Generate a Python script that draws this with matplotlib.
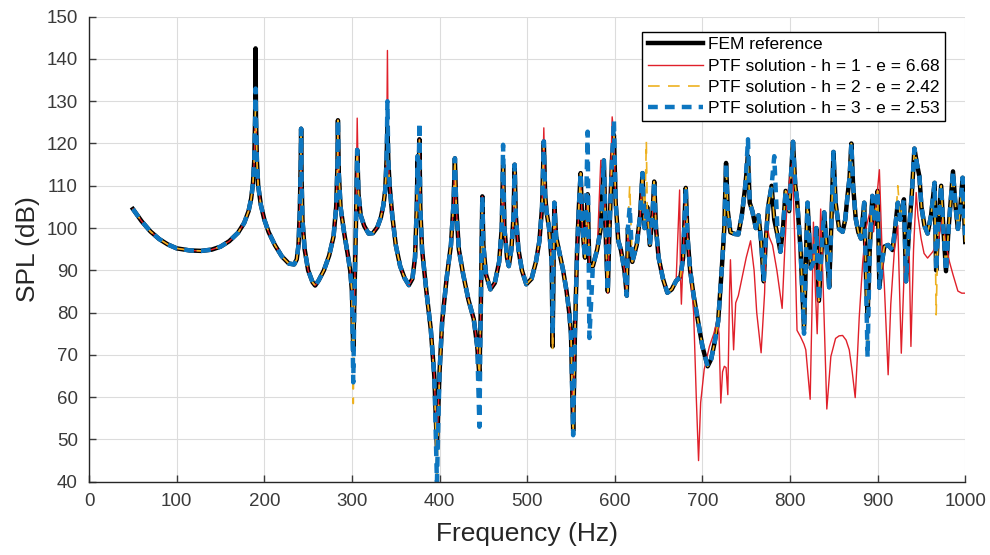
"""
SPL frequency response: FEM reference vs PTF solutions of orders h = 1, 2, 3.
Curves are read off the published figure, peak by peak.
"""

import numpy as np
import matplotlib
matplotlib.use("Agg")
import matplotlib.pyplot as plt

plt.rcParams['font.family'] = ['Liberation Sans', 'DejaVu Sans']

# FEM reference (frequency in Hz, SPL in dB)
fem_freq = [50, 60, 70, 80, 90, 100, 115, 128, 140, 150, 160, 170, 177, 182, 185, 187, 188.5, 189.5, 190, 190.5,
            191.5, 193, 196, 200, 205, 212, 220, 228, 234, 237, 239, 240.5, 241.5, 242, 242.5, 243.5, 246, 250, 255,
            258, 262, 268, 274, 279, 282, 283.5, 284, 285, 287, 291, 295, 298, 300, 301.5, 303, 304.5, 306, 307.5,
            310, 314, 319, 324, 329, 333, 336, 338, 339.5, 340.5, 341.5, 343, 346, 350, 355, 360, 365, 369, 372,
            374, 375, 376, 377, 378, 380, 385, 390, 394, 397, 400, 403, 408, 413, 416, 417.5, 419, 422, 427, 433,
            439, 443, 445.5, 447, 448.8, 450, 453, 458, 463, 468, 471, 472.5, 474, 477, 479, 482, 484.5, 485.7, 487,
            490, 494, 499, 505, 510, 514, 517, 519, 520.5, 522, 525, 528, 529, 530, 531, 533, 537, 541, 545, 548,
            550, 552.5, 554.5, 557, 559, 561, 563, 566, 569, 571, 575, 580, 584, 587.5, 590, 592, 594, 597, 599,
            601, 604, 607, 611, 613.7, 615, 617, 620, 625, 629, 631.6, 634, 637, 640, 643, 645, 647, 650, 655, 660,
            665, 670, 675, 678, 681, 683, 686, 690, 695, 700, 706, 710, 714, 718, 722, 725, 727, 729, 732, 737, 741,
            745, 749, 752, 754, 757, 761, 764, 767, 770, 772, 775, 779, 782, 786, 789, 792, 795, 799, 801, 803.4,
            806, 808, 812, 816, 818, 820, 823.7, 827, 830, 833, 836, 839, 842, 844.7, 847, 849.6, 852, 856, 860,
            863, 865.6, 868, 870, 872, 875, 878, 881, 884.7, 886.5, 888.5, 891, 894, 897, 900, 902, 905, 907.6, 912,
            917, 920, 923, 926, 930, 932.4, 936, 939, 942, 945, 947.7, 950, 953.4, 957, 961, 965, 966.8, 969, 972.5,
            975, 978, 981, 984, 986, 989, 991.6, 994, 997, 1000]
fem_spl = [104.5, 101.6, 99.2, 97.4, 96.1, 95.2, 94.7, 94.6, 94.9, 95.6, 96.9, 98.9, 101.2, 104, 107, 110.5, 116, 126,
           142.5, 126, 116, 110, 105.5, 102, 99, 96, 93.3, 91.6, 91.4, 92.6, 96, 104, 115, 123.5, 112, 102, 95, 90,
           87.2, 86.4, 87.6, 90, 93.5, 98, 105, 115, 125.5, 113, 105, 99, 94, 90, 85, 71, 85, 100, 118.5, 108, 103,
           100.5, 98.7, 98.8, 100.2, 102.5, 105.5, 109, 116, 124, 116, 110, 103, 96, 91, 88.2, 86.5, 88, 93, 105,
           117, 110, 121, 105, 95, 85, 76, 65, 48, 66, 78, 88, 96, 106, 116.5, 105, 95, 89, 83, 78.5, 72, 65, 80,
           107.5, 96, 89, 85.5, 87, 92, 100, 115, 100, 93, 91, 95, 103, 115, 103, 95, 90, 86.7, 88, 92, 97, 105,
           120.5, 108, 104, 100, 92, 72, 90, 106, 98, 94, 90, 85, 80, 75, 52, 75, 95, 105, 113, 100, 93, 108, 91,
           91, 95, 100, 116, 96, 85, 100, 117, 122, 106, 97, 94.8, 90, 84, 100, 95, 92, 96, 103, 113, 100, 105, 96,
           103, 111, 100, 93, 88, 84.7, 85.5, 87.5, 88.5, 93, 109.5, 98, 90, 84, 78, 72, 67.3, 69, 73, 78, 90, 100,
           115.4, 104, 99, 98.6, 98.5, 103, 110, 117, 106, 104, 100, 103, 97, 87.4, 96, 105, 110, 102, 98, 94.4, 100,
           108.8, 104, 112, 120.4, 110, 106.8, 95, 76, 92, 106, 90.5, 92, 100, 82.8, 95, 103.7, 95, 86, 100, 118,
           106, 99.8, 99.1, 102, 107.6, 112, 120, 110, 102.2, 99, 97.5, 106, 90, 79, 95, 107.6, 101, 108.8, 85.9,
           92, 95.6, 96, 94.8, 100, 106, 102, 106.8, 87.4, 100, 108, 118.8, 115, 112.2, 105, 100.6, 98.7, 103,
           110.7, 90, 100, 110, 100, 89.8, 100, 108, 113.4, 105, 99.8, 104, 111.9, 96.7]

# PTF h = 3: points where it leaves the FEM curve
h3_freq = [190, 301.5, 340.5, 377, 397, 445.5, 472.5, 529, 552.5, 569, 571, 599, 617, 752, 782, 816, 888.5]
h3_spl = [133, 63.5, 130, 125, 40, 53, 119.7, 75, 51, 122.8, 74, 125.5, 105, 121, 117, 75, 69.5]

# PTF h = 2: points where it leaves the FEM curve
h2_freq = [190, 301.5, 340.5, 397, 529, 552.5, 617, 636, 888.5, 923, 966.8]
h2_spl = [130, 58.5, 128, 41, 71, 51, 110, 120.5, 72, 110, 79.5]

# PTF h = 1: deviations below 681 Hz, own path above
h1_freq = [190, 306, 340.5, 519, 584, 592, 597, 674, 676]
h1_spl = [124, 126, 142, 123.7, 116, 84.6, 126.3, 109, 82]
h1_tail_freq = [683, 686, 690, 693, 695.6, 698, 702, 708, 713, 717, 719, 721, 723, 725, 727, 729, 731, 732, 734,
                735.6, 738, 741, 745, 750, 755, 759, 762, 767, 771, 773, 776, 780, 785, 789, 791, 794, 797, 800,
                802.7, 805, 808, 812, 816, 818, 823, 825, 826.7, 829, 831, 833, 835, 838, 842, 846.6, 852, 856, 860,
                864, 867.6, 871, 874.4, 877, 879, 883, 886.6, 889, 891.6, 895.4, 898, 902, 905, 907.6, 912, 915, 919,
                923, 927, 930, 932.4, 936, 938, 941, 944, 946, 949.6, 953, 957, 963, 968.7, 971, 974, 978, 982, 986,
                991.6, 996, 1000]
h1_tail_spl = [98, 90, 80, 60, 45, 58.7, 66.5, 72, 75, 78.3, 75, 58.6, 66, 67.3, 67, 60.6, 85, 92.5, 80, 71.2, 82.3,
               84, 88, 93, 97, 90, 80, 70.5, 84.7, 102, 98, 96, 90, 84, 81, 95, 107.6, 112, 115.3, 100, 75.8, 74.3,
               72.5, 71.2, 59.5, 80, 101.4, 85, 75, 90, 104.5, 85, 57.2, 69.6, 73.9, 74.5, 74.6, 73.5, 71.2, 66,
               59.9, 70, 78.9, 92, 99.8, 102, 104.1, 99.1, 105, 113.8, 95, 86.7, 65.3, 82, 94.4, 100.6, 70.4, 88,
               95.2, 94.4, 72, 95, 108.4, 103, 97.5, 94, 92.9, 94.4, 96.7, 99, 102.2, 96, 92, 89, 85.1, 84.6, 84.6]


def merge_points(base_f, base_v, new_f, new_v):
    """Replace/insert the given points into a base curve."""
    pts = dict(zip(base_f, base_v))
    pts.update(zip(new_f, new_v))
    f = sorted(pts)
    return np.array(f), np.array([pts[k] for k in f])


h3_f, h3_v = merge_points(fem_freq, fem_spl, h3_freq, h3_spl)
h2_f, h2_v = merge_points(fem_freq, fem_spl, h2_freq, h2_spl)
low_f = [f for f in fem_freq if f <= 681]
h1_f, h1_v = merge_points(low_f, fem_spl[:len(low_f)], h1_freq + h1_tail_freq, h1_spl + h1_tail_spl)

fig = plt.figure(figsize=(9.9, 5.55), dpi=100)
ax = fig.add_axes([0.09, 0.132, 0.885, 0.838])

ax.plot(fem_freq, fem_spl, color='black', linewidth=3.2, label='FEM reference')
ax.plot(h1_f, h1_v, color='#e0202a', linewidth=1.0, label='PTF solution - h = 1 - e = 6.68')
ax.plot(h2_f, h2_v, color='#EDB120', linewidth=1.2, linestyle=(0, (7, 5)),
        label='PTF solution - h = 2 - e = 2.42')
ax.plot(h3_f, h3_v, color='#0d76c0', linewidth=3.2, linestyle=(0, (2.2, 1.6)),
        label='PTF solution - h = 3 - e = 2.53')

ax.set_xlim(0, 1000)
ax.set_ylim(40, 150)
ax.set_xticks(np.arange(0, 1001, 100))
ax.set_yticks(np.arange(40, 151, 10))
ax.grid(True, color='#dcdcdc', linewidth=0.8)
ax.set_axisbelow(True)
for side in ['top', 'right']:
    ax.spines[side].set_visible(False)
for side in ['left', 'bottom']:
    ax.spines[side].set_color('#262626')
    ax.spines[side].set_linewidth(1.0)
ax.tick_params(direction='in', length=5, width=1, colors='#3a3a3a', labelsize=13.5, pad=8)
ax.set_xlabel('Frequency (Hz)', fontsize=19, color='#262626', labelpad=9)
ax.set_ylabel('SPL (dB)', fontsize=19, color='#262626', labelpad=5)

leg = ax.legend(loc='upper right', bbox_to_anchor=(0.977, 0.967), fontsize=12.5, frameon=True, fancybox=False,
                handlelength=3.2, handletextpad=0.3, borderpad=0.3, labelspacing=0.35, borderaxespad=0.0)
leg.get_frame().set_edgecolor('black')
leg.get_frame().set_linewidth(1.0)
leg.get_frame().set_alpha(1)

plt.savefig('out.png', dpi=100)
